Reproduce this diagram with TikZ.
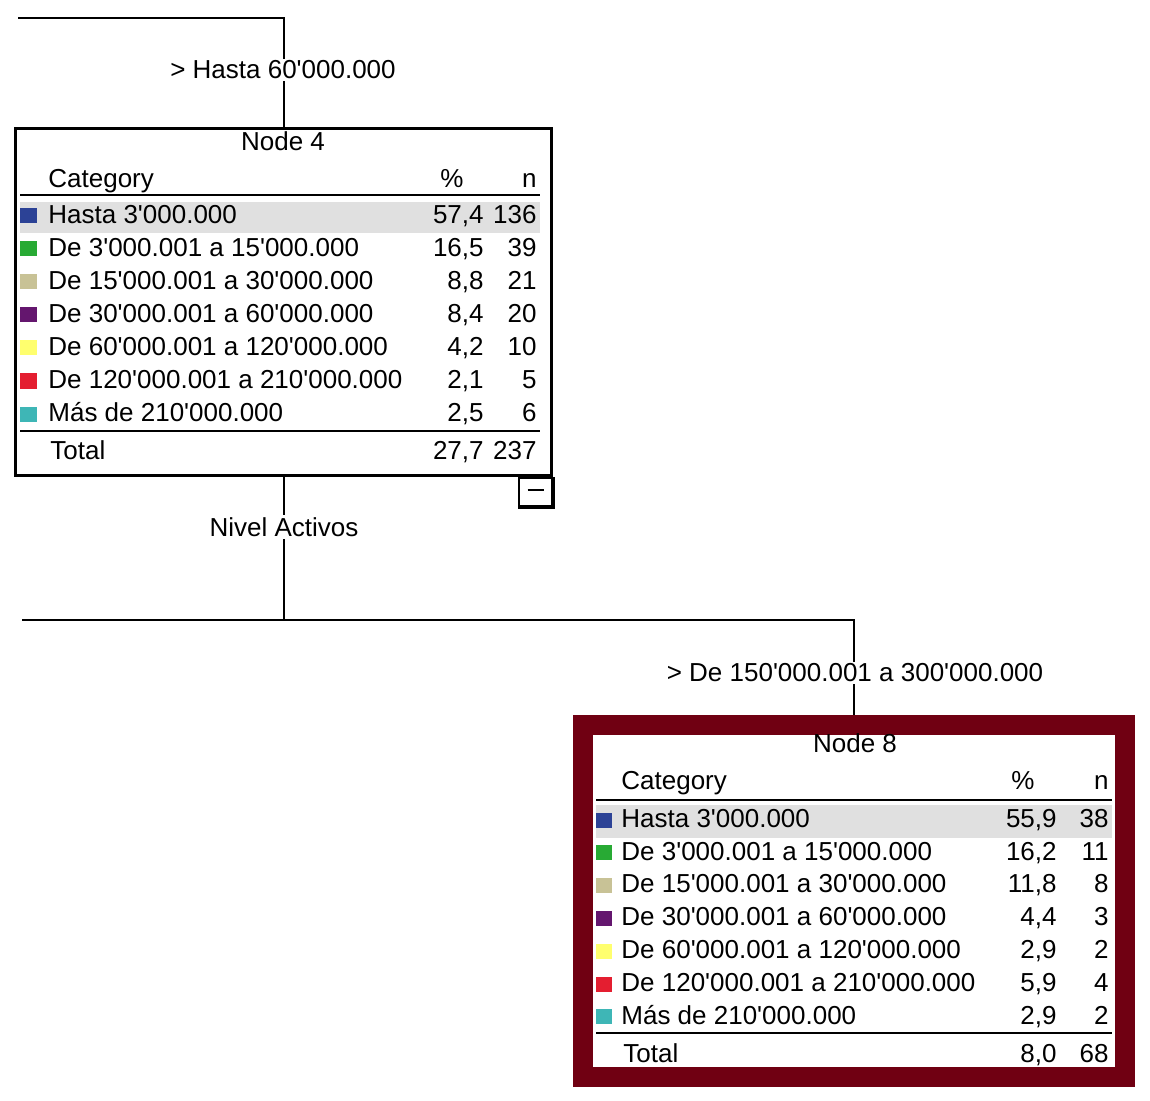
\documentclass[tikz,border=0pt]{standalone}
\usepackage{fontspec}
\newfontfamily\police{Liberation Sans}
\definecolor{bordeaux}{RGB}{112,0,18}
\definecolor{bleu}{RGB}{44,66,150}
\definecolor{vert}{RGB}{40,170,52}
\definecolor{beige}{RGB}{200,194,150}
\definecolor{violet}{RGB}{100,22,110}
\definecolor{jaune}{RGB}{255,255,110}
\definecolor{rouge}{RGB}{228,30,48}
\definecolor{turquoise}{RGB}{62,182,182}
\definecolor{bande}{RGB}{224,224,224}
\begin{document}
\begin{tikzpicture}[x=0.5pt, y=-0.5pt, font=\police\fontsize{13}{15}\selectfont]
	% Styles de l'arbre (cadres, liens, cellules)
	\tikzset{
		lien/.style={line width=1pt},
		regle/.style={line width=1pt},
		etiq/.style={fill=white, inner sep=1pt},
		cell/.style={inner sep=0pt, text height=0.72em, text depth=0pt},
		cadre/.style={draw, line width=1.5pt, inner sep=0pt},
		moins/.style={draw, line width=1pt, fill=white, inner sep=0pt, minimum width=16.5pt, minimum height=14pt}
	}
	\useasboundingbox (0,0) rectangle (1150,1101);
	% les deux noeuds
	\node[cadre, minimum width=268pt, minimum height=173.5pt] (n4) at (283.5,302) {};
	\node[draw=bordeaux, line width=10pt, fill=white, minimum width=271pt, minimum height=176pt] (n8) at (854,901) {};
	\node[moins, anchor=north east] (replier) at (n4.south east) {\rule[0.3ex]{8pt}{1pt}};
	\draw[line width=1.5pt] (replier.south west) -- (replier.south east) -- (replier.north east);
	% liens
	\coordinate (depart) at (18,18);
	\coordinate (gauche) at (22,620);
	\draw[lien] (depart) -| (n4.north);
	\draw[lien] (n4.south) -- (n4.south |- gauche);
	\draw[lien] (gauche) -| (n8.north);
	\node[etiq] (e1) at (283,70) {> Hasta 60'000.000};
	\node[etiq] (e2) at (284,527) {Nivel Activos};
	\node[etiq] (e3) at (855,673) {> De 150'000.001 a 300'000.000};
	% tableau du noeud 4
	\node[cell] (titre4) at (283,143) {Node 4};
	\node[cell, anchor=west] (cat4) at (48,180) {Category};
	\node[cell] (pc4) at (452,180) {\%};
	\node[cell, anchor=east] (nb4) at (537,180) {n};
	\draw[regle] (20,195) -- (540,195);
	\fill[bande] (20,202) rectangle (540,233);
	\foreach \coul/\cat/\pc/\nb [count=\i from 0] in {
		bleu/{Hasta 3'000.000}/{57,4}/136,
		vert/{De 3'000.001 a 15'000.000}/{16,5}/39,
		beige/{De 15'000.001 a 30'000.000}/{8,8}/21,
		violet/{De 30'000.001 a 60'000.000}/{8,4}/20,
		jaune/{De 60'000.001 a 120'000.000}/{4,2}/10,
		rouge/{De 120'000.001 a 210'000.000}/{2,1}/5,
		turquoise/{Más de 210'000.000}/{2,5}/6} {
		\fill[\coul] (20,{216+33*\i-7.5}) rectangle (37,{216+33*\i+7.5});
		\node[cell, anchor=west] (l4-\i) at (48,{216+33*\i}) {\cat};
		\node[cell, anchor=east] (p4-\i) at (484,{216+33*\i}) {\pc};
		\node[cell, anchor=east] (m4-\i) at (537,{216+33*\i}) {\nb};
	}
	\draw[regle] (20,431) -- (540,431);
	\node[cell, anchor=west] (tot4) at (50,452) {Total};
	\node[cell, anchor=east] (tp4) at (484,452) {27,7};
	\node[cell, anchor=east] (tn4) at (537,452) {237};
	% tableau du noeud 8
	\node[cell] (titre8) at (855,745) {Node 8};
	\node[cell, anchor=west] (cat8) at (621,782) {Category};
	\node[cell] (pc8) at (1023,782) {\%};
	\node[cell, anchor=east] (nb8) at (1109,782) {n};
	\draw[regle] (596,800) -- (1112,800);
	\fill[bande] (596,805) rectangle (1112,838);
	\foreach \coul/\cat/\pc/\nb [count=\i from 0] in {
		bleu/{Hasta 3'000.000}/{55,9}/38,
		vert/{De 3'000.001 a 15'000.000}/{16,2}/11,
		beige/{De 15'000.001 a 30'000.000}/{11,8}/8,
		violet/{De 30'000.001 a 60'000.000}/{4,4}/3,
		jaune/{De 60'000.001 a 120'000.000}/{2,9}/2,
		rouge/{De 120'000.001 a 210'000.000}/{5,9}/4,
		turquoise/{Más de 210'000.000}/{2,9}/2} {
		\fill[\coul] (596,{820+32.8*\i-7.5}) rectangle (612,{820+32.8*\i+7.5});
		\node[cell, anchor=west] (l8-\i) at (621,{820+32.8*\i}) {\cat};
		\node[cell, anchor=east] (p8-\i) at (1057,{820+32.8*\i}) {\pc};
		\node[cell, anchor=east] (m8-\i) at (1109,{820+32.8*\i}) {\nb};
	}
	\draw[regle] (596,1033) -- (1112,1033);
	\node[cell, anchor=west] (tot8) at (623,1055) {Total};
	\node[cell, anchor=east] (tp8) at (1057,1055) {8,0};
	\node[cell, anchor=east] (tn8) at (1109,1055) {68};
\end{tikzpicture}
\end{document}
